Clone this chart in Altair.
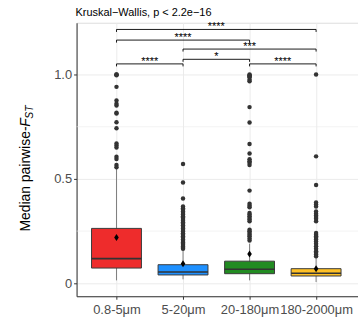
import altair as alt
import pandas as pd

FONT = "Liberation Sans"

# ---------------- data ----------------
groups = ["0.8-5μm", "5-20μm", "20-180μm", "180-2000μm"]
fill_colors = ["#EE2C2C", "#1E90FF", "#228B22", "#FFC125"]

lower_whisker = [0.014, 0.019, 0.014, 0.006]
q1 = [0.073, 0.040, 0.046, 0.035]
medians = [0.118, 0.054, 0.067, 0.048]
q3 = [0.263, 0.089, 0.106, 0.070]
upper_whisker = [0.548, 0.160, 0.190, 0.122]
means = [0.219, 0.094, 0.140, 0.070]

outliers_a = [1.0, 1.0, 0.997, 0.941, 0.876, 0.860, 0.852, 0.817, 0.813, 0.771,
              0.743, 0.670, 0.660, 0.650, 0.606, 0.595, 0.567, 0.556]
outliers_b = [0.571, 0.483, 0.406, 0.368, 0.360, 0.352, 0.344, 0.337, 0.330, 0.321,
              0.315, 0.308, 0.300, 0.292, 0.285, 0.278, 0.270, 0.262, 0.255, 0.248,
              0.240, 0.232, 0.225, 0.218, 0.210, 0.203, 0.196, 0.190, 0.183, 0.176,
              0.170, 0.165]
outliers_c = [1.0, 0.997, 0.992, 0.987, 0.975, 0.968, 0.844, 0.770, 0.667, 0.622,
              0.594, 0.585, 0.578, 0.567, 0.444, 0.381, 0.372, 0.364, 0.337, 0.329,
              0.321, 0.313, 0.305, 0.297, 0.257, 0.249, 0.241, 0.233, 0.225, 0.215,
              0.205]
outliers_d = [1.0, 0.608, 0.471, 0.387, 0.378, 0.368, 0.344, 0.333, 0.325, 0.317,
              0.309, 0.297, 0.241, 0.233, 0.225, 0.218, 0.210, 0.200, 0.190, 0.178,
              0.166, 0.154, 0.146, 0.138, 0.130]
outliers = [outliers_a, outliers_b, outliers_c, outliers_d]

bracket_from = ["0.8-5μm", "0.8-5μm", "5-20μm", "5-20μm", "0.8-5μm", "20-180μm"]
bracket_to = ["180-2000μm", "20-180μm", "180-2000μm", "20-180μm", "5-20μm", "180-2000μm"]
bracket_y = [1.216, 1.165, 1.122, 1.073, 1.051, 1.051]
bracket_labels = ["****", "****", "***", "*", "****", "****"]
tip = 0.012

title_text = "Kruskal−Wallis, p < 2.2e−16"
ytitle_main = "Median pairwise-"
ytitle_f = "F"
ytitle_sub = "ST"

# ---------------- tables ----------------
pos = {g: i + 1 for i, g in enumerate(groups)}
half = 0.375

box_df = pd.DataFrame({
    "group": groups,
    "pos": [pos[g] for g in groups],
    "low": lower_whisker, "q1": q1, "median": medians, "q3": q3,
    "high": upper_whisker, "mean": means,
})
box_df["xl"] = box_df["pos"] - half
box_df["xr"] = box_df["pos"] + half

out_rows = []
for g, vals in zip(groups, outliers):
    for v in vals:
        out_rows.append({"group": g, "pos": pos[g], "value": v})
out_df = pd.DataFrame(out_rows)

br_df = pd.DataFrame({
    "x1": [pos[g] for g in bracket_from],
    "x2": [pos[g] for g in bracket_to],
    "y": bracket_y,
    "label": bracket_labels,
})
br_df["xm"] = (br_df["x1"] + br_df["x2"]) / 2
br_df["ytip"] = br_df["y"] - tip

tips_df = pd.concat([
    br_df[["x1", "y", "ytip"]].rename(columns={"x1": "x"}),
    br_df[["x2", "y", "ytip"]].rename(columns={"x2": "x"}),
])

minor_df = pd.DataFrame({"v": [0.25, 0.75]})

# ---------------- scales / axes ----------------
xscale = alt.Scale(domain=[0.4, 4.63], nice=False, zero=False)
yscale = alt.Scale(domain=[-0.062, 1.248], nice=False, zero=False)
color_scale = alt.Scale(domain=groups, range=fill_colors)

label_expr = "[" + ",".join("'" + g + "'" for g in groups) + "][round(datum.value) - 1]"

xaxis = alt.Axis(values=[1, 2, 3, 4], labelExpr=label_expr, title=None,
                 grid=True, gridColor="#ebebeb", gridWidth=1,
                 domainColor="#333333", tickColor="#333333", tickSize=3,
                 labelFont=FONT, labelFontSize=13, labelColor="#4d4d4d",
                 labelPadding=4, labelFlush=False, labelOverlap=False)
yaxis = alt.Axis(values=[0, 0.5, 1.0],
                 labelExpr="datum.value == 0 ? '0' : format(datum.value, '.1f')",
                 title=None, grid=True, gridColor="#ebebeb", gridWidth=1,
                 domainColor="#333333", tickColor="#333333", tickSize=3,
                 labelFont=FONT, labelFontSize=13, labelColor="#4d4d4d",
                 labelPadding=2)

# ---------------- layers ----------------
minor = alt.Chart(minor_df).mark_rule(color="#ebebeb", strokeWidth=0.6).encode(
    y=alt.Y("v:Q", scale=yscale, axis=yaxis),
)

whisk = alt.Chart(box_df).mark_rule(color="#7f7f7f", strokeWidth=1).encode(
    x=alt.X("pos:Q", scale=xscale, axis=xaxis),
    y=alt.Y("low:Q", scale=yscale),
    y2="high:Q",
)

boxes = alt.Chart(box_df).mark_bar(stroke="#3a3a3a", strokeWidth=1).encode(
    x=alt.X("xl:Q", scale=xscale),
    x2="xr:Q",
    y=alt.Y("q1:Q", scale=yscale),
    y2="q3:Q",
    fill=alt.Fill("group:N", scale=color_scale, legend=None),
)

med = alt.Chart(box_df).mark_rule(color="#333333", strokeWidth=1.6).encode(
    x=alt.X("xl:Q", scale=xscale),
    x2="xr:Q",
    y=alt.Y("median:Q", scale=yscale),
)

pts = alt.Chart(out_df).mark_point(filled=True, color="#333333", opacity=1, size=20).encode(
    x=alt.X("pos:Q", scale=xscale),
    y=alt.Y("value:Q", scale=yscale),
)

mean_pts = alt.Chart(box_df).mark_point(
    filled=True, color="black", opacity=1, size=50,
    shape="M0,-1L0.65,0L0,1L-0.65,0Z",
).encode(
    x=alt.X("pos:Q", scale=xscale),
    y=alt.Y("mean:Q", scale=yscale),
)

br_lines = alt.Chart(br_df).mark_rule(color="black", strokeWidth=0.9).encode(
    x=alt.X("x1:Q", scale=xscale),
    x2="x2:Q",
    y=alt.Y("y:Q", scale=yscale),
)
br_tips = alt.Chart(tips_df).mark_rule(color="black", strokeWidth=0.9).encode(
    x=alt.X("x:Q", scale=xscale),
    y=alt.Y("y:Q", scale=yscale),
    y2="ytip:Q",
)
br_text = alt.Chart(br_df).mark_text(
    font=FONT, fontSize=11, color="black", baseline="alphabetic", dy=1,
).encode(
    x=alt.X("xm:Q", scale=xscale),
    y=alt.Y("y:Q", scale=yscale),
    text="label:N",
)

ytitle_x = -47
ytitle_y = 210
yt1 = alt.Chart(pd.DataFrame({"t": [ytitle_main]})).mark_text(
    font=FONT, fontSize=14, angle=270, align="left", baseline="alphabetic", color="black",
).encode(x=alt.value(ytitle_x), y=alt.value(ytitle_y), text="t:N")
yt2 = alt.Chart(pd.DataFrame({"t": [ytitle_f]})).mark_text(
    font=FONT, fontSize=14, fontStyle="italic", angle=270, align="left",
    baseline="alphabetic", color="black", dx=105.5,
).encode(x=alt.value(ytitle_x), y=alt.value(ytitle_y), text="t:N")
yt3 = alt.Chart(pd.DataFrame({"t": [ytitle_sub]})).mark_text(
    font=FONT, fontSize=10.5, fontStyle="italic", angle=270, align="left",
    baseline="alphabetic", color="black", dx=113.5, dy=3,
).encode(x=alt.value(ytitle_x), y=alt.value(ytitle_y), text="t:N")

chart = alt.layer(
    minor, whisk, boxes, med, pts, mean_pts, br_lines, br_tips, br_text, yt1, yt2, yt3,
).properties(
    width=283, height=275,
    padding={"left": 77, "top": 22, "right": 0, "bottom": 23},
    autosize=alt.AutoSizeParams(type="none"),
    title=alt.TitleParams(title_text, anchor="start", frame="group", fontSize=11,
                          fontWeight="normal", font=FONT, color="black", offset=4, dx=-1),
).configure_view(stroke="#333333", strokeWidth=1).configure(background="white")

chart.save("out.html", embed_options={"renderer": "svg", "actions": False})
